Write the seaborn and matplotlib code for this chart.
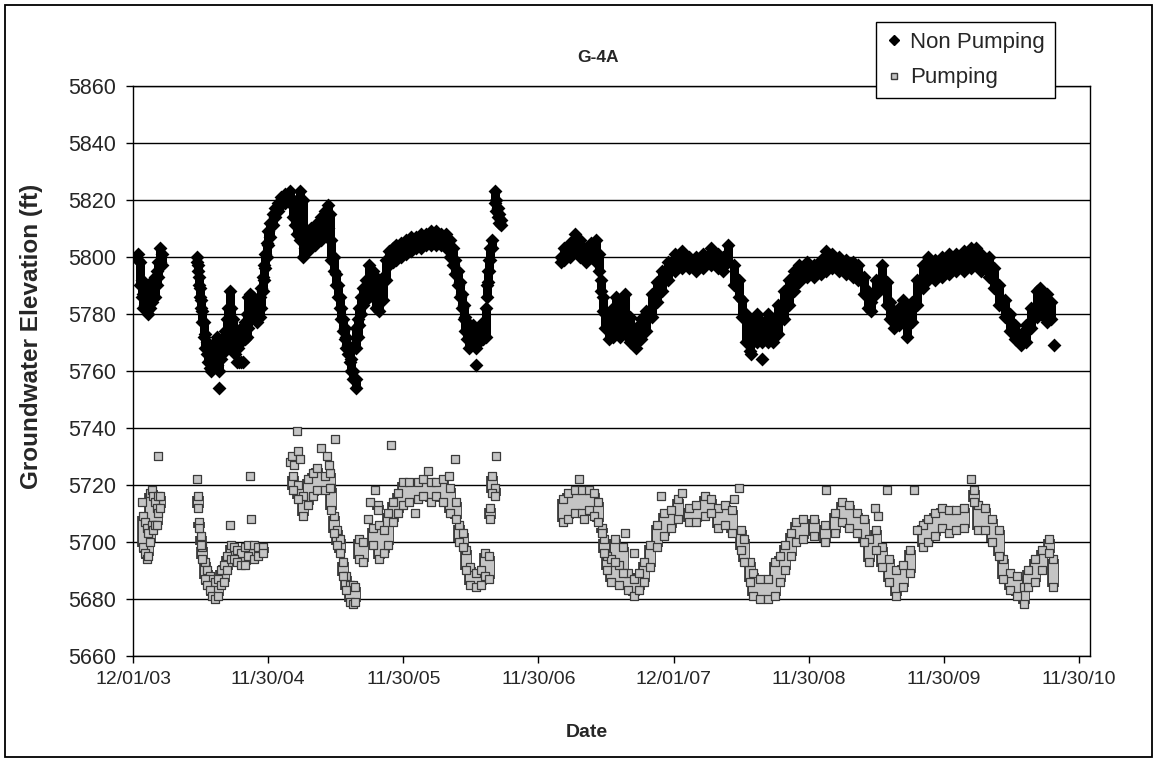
import pandas as pd
import seaborn as sns
import matplotlib.pyplot as plt
import matplotlib.dates as mdates
from matplotlib.lines import Line2D
from matplotlib.patches import Rectangle

# readings: days since 12/01/03, with the top / bottom of the band of daily readings
start = pd.Timestamp("2003-12-01")

np_day = [
    14, 19, 23, 28, 32, 37, 41, 46, 50, 55,
    59, 64, 68, 73, 77, 172, 175, 178, 181, 184,
    187, 191, 195, 199, 203, 208, 212, 217, 221, 226,
    233, 239, 248, 253, 257, 262, 266, 271, 275, 284,
    293, 302, 307, 311, 316, 325, 334, 343, 347, 352,
    354, 357, 361, 365, 370, 377, 384, 392, 401, 410,
    424, 431, 437, 442, 451, 458, 464, 473, 482, 491,
    500, 509, 518, 527, 533, 536, 542, 548, 553, 558,
    563, 567, 572, 576, 581, 585, 590, 594, 602, 603,
    608, 612, 617, 621, 630, 639, 648, 657, 666, 675,
    684, 693, 702, 711, 725, 738, 752, 765, 779, 792,
    806, 819, 833, 846, 857, 864, 871, 878, 884, 889,
    894, 898, 902, 909, 918, 927, 936, 945, 954, 956,
    959, 961, 965, 970, 977, 981, 986, 990, 995, 1156,
    1165, 1180, 1194, 1209, 1223, 1238, 1252, 1260, 1265, 1270,
    1276, 1286, 1296, 1305, 1315, 1329, 1344, 1358, 1373, 1387,
    1402, 1416, 1430, 1445, 1464, 1483, 1503, 1522, 1541, 1561,
    1580, 1594, 1609, 1623, 1638, 1647, 1657, 1667, 1676, 1686,
    1700, 1715, 1729, 1744, 1758, 1773, 1787, 1801, 1821, 1840,
    1859, 1874, 1888, 1907, 1927, 1946, 1960, 1975, 1985, 1994,
    2009, 2023, 2037, 2047, 2057, 2071, 2081, 2091, 2105, 2119,
    2134, 2148, 2168, 2187, 2206, 2225, 2245, 2264, 2278, 2293,
    2312, 2327, 2341, 2356, 2370, 2384, 2399, 2413, 2428, 2442,
    2452, 2461, 2471, 2481]
np_hi = [
    5801, 5798, 5792, 5787, 5790, 5785, 5783, 5786, 5789, 5792,
    5793, 5795, 5798, 5803, 5801, 5800, 5797, 5793, 5789, 5785,
    5781, 5777, 5773, 5770, 5768, 5768, 5766, 5768, 5770, 5772,
    5766, 5770, 5774, 5778, 5782, 5788, 5782, 5778, 5772, 5773,
    5775, 5777, 5780, 5786, 5787, 5786, 5784, 5786, 5789, 5793,
    5797, 5801, 5805, 5809, 5812, 5815, 5817, 5819, 5821, 5822,
    5823, 5820, 5818, 5820, 5823, 5820, 5808, 5809, 5810, 5811,
    5812, 5814, 5816, 5818, 5815, 5806, 5800, 5794, 5790, 5786,
    5782, 5778, 5775, 5772, 5769, 5767, 5764, 5760, 5757, 5775,
    5778, 5782, 5786, 5789, 5792, 5797, 5795, 5793, 5788, 5793,
    5799, 5802, 5803, 5804, 5805, 5806, 5807, 5807, 5808, 5808,
    5809, 5809, 5808, 5808, 5806, 5803, 5799, 5795, 5791, 5787,
    5783, 5779, 5777, 5776, 5776, 5774, 5775, 5777, 5782, 5790,
    5795, 5799, 5803, 5806, 5823, 5820, 5817, 5815, 5813, 5800,
    5803, 5805, 5808, 5806, 5803, 5805, 5806, 5801, 5792, 5786,
    5780, 5778, 5782, 5786, 5781, 5787, 5779, 5775, 5778, 5781,
    5787, 5791, 5795, 5798, 5801, 5802, 5800, 5800, 5801, 5803,
    5801, 5800, 5804, 5797, 5792, 5785, 5780, 5776, 5778, 5780,
    5777, 5780, 5778, 5783, 5788, 5792, 5795, 5797, 5798, 5797,
    5799, 5802, 5801, 5800, 5799, 5798, 5797, 5793, 5788, 5784,
    5792, 5797, 5791, 5784, 5781, 5782, 5785, 5780, 5784, 5792,
    5797, 5800, 5799, 5800, 5801, 5801, 5802, 5803, 5803, 5801,
    5800, 5796, 5790, 5785, 5780, 5776, 5773, 5776, 5782, 5788,
    5789, 5785, 5787, 5784]
np_lo = [
    5799, 5790, 5786, 5782, 5783, 5781, 5780, 5782, 5784, 5786,
    5786, 5790, 5793, 5798, 5797, 5798, 5795, 5790, 5786, 5782,
    5777, 5772, 5768, 5766, 5763, 5761, 5760, 5762, 5764, 5762,
    5760, 5764, 5767, 5770, 5772, 5776, 5770, 5768, 5766, 5768,
    5770, 5771, 5772, 5775, 5778, 5779, 5777, 5779, 5782, 5788,
    5792, 5796, 5800, 5804, 5807, 5811, 5814, 5816, 5818, 5819,
    5819, 5814, 5811, 5808, 5806, 5800, 5803, 5802, 5804, 5804,
    5806, 5806, 5808, 5810, 5806, 5799, 5795, 5790, 5786, 5782,
    5778, 5774, 5771, 5768, 5766, 5763, 5760, 5757, 5754, 5768,
    5772, 5776, 5780, 5783, 5785, 5788, 5786, 5782, 5781, 5785,
    5792, 5797, 5798, 5799, 5800, 5801, 5802, 5803, 5803, 5804,
    5804, 5804, 5804, 5803, 5800, 5797, 5794, 5790, 5786, 5782,
    5778, 5774, 5771, 5768, 5771, 5768, 5770, 5771, 5772, 5786,
    5791, 5795, 5799, 5803, 5819, 5816, 5814, 5812, 5811, 5798,
    5799, 5800, 5802, 5800, 5798, 5800, 5798, 5795, 5788, 5781,
    5775, 5771, 5772, 5774, 5772, 5773, 5770, 5768, 5771, 5774,
    5779, 5784, 5788, 5792, 5795, 5796, 5796, 5795, 5796, 5797,
    5796, 5795, 5798, 5790, 5786, 5779, 5770, 5767, 5770, 5770,
    5770, 5770, 5770, 5773, 5778, 5783, 5788, 5791, 5793, 5793,
    5794, 5795, 5796, 5795, 5794, 5793, 5792, 5787, 5782, 5781,
    5787, 5789, 5783, 5778, 5775, 5776, 5778, 5772, 5777, 5783,
    5789, 5792, 5792, 5793, 5794, 5795, 5795, 5796, 5797, 5795,
    5793, 5789, 5783, 5779, 5774, 5771, 5769, 5770, 5775, 5779,
    5781, 5779, 5777, 5778]
np_out_day = [233, 282, 287, 293, 298, 927, 1671, 1700, 2490]
np_out_ft = [5754, 5763, 5763, 5763, 5763, 5762, 5766, 5764, 5769]

p_day = [
    28, 32, 37, 41, 46, 50, 55, 59, 64, 68,
    73, 176, 178, 183, 187, 194, 201, 208, 214, 221,
    230, 237, 245, 255, 264, 273, 282, 292, 302, 311,
    326, 338, 352, 431, 446, 460, 473, 487, 497, 518,
    532, 536, 542, 550, 558, 567, 576, 585, 594, 599,
    612, 621, 648, 662, 666, 677, 689, 702, 716, 729,
    747, 770, 783, 806, 819, 837, 857, 873, 880, 891,
    900, 911, 927, 941, 952, 961, 965, 969, 977, 1161,
    1175, 1194, 1214, 1233, 1247, 1257, 1267, 1273, 1281, 1291,
    1302, 1312, 1324, 1339, 1353, 1368, 1382, 1397, 1416, 1435,
    1455, 1474, 1503, 1522, 1546, 1561, 1580, 1599, 1618, 1642,
    1652, 1667, 1676, 1695, 1715, 1734, 1748, 1763, 1777, 1792,
    1811, 1840, 1869, 1898, 1917, 1936, 1956, 1975, 1989, 2009,
    2023, 2042, 2062, 2081, 2100, 2134, 2148, 2168, 2187, 2206,
    2225, 2245, 2274, 2283, 2302, 2322, 2341, 2351, 2370, 2389,
    2408, 2418, 2437, 2457, 2476, 2486]
p_hi = [
    5709, 5707, 5705, 5703, 5717, 5718, 5716, 5714, 5712, 5716,
    5716, 5716, 5707, 5702, 5698, 5693, 5690, 5688, 5687, 5686,
    5687, 5690, 5692, 5695, 5699, 5698, 5697, 5696, 5698, 5699,
    5699, 5698, 5698, 5723, 5720, 5716, 5722, 5724, 5726, 5723,
    5724, 5719, 5709, 5704, 5701, 5693, 5688, 5685, 5685, 5684,
    5701, 5700, 5705, 5713, 5706, 5704, 5710, 5714, 5717, 5721,
    5721, 5721, 5722, 5721, 5721, 5722, 5719, 5714, 5706, 5703,
    5697, 5691, 5689, 5690, 5696, 5695, 5712, 5723, 5719, 5715,
    5717, 5718, 5718, 5718, 5717, 5714, 5705, 5701, 5695, 5694,
    5701, 5692, 5698, 5689, 5687, 5689, 5693, 5699, 5706, 5710,
    5711, 5715, 5712, 5713, 5716, 5715, 5712, 5713, 5711, 5704,
    5701, 5693, 5689, 5687, 5687, 5693, 5695, 5699, 5703, 5707,
    5708, 5708, 5706, 5710, 5714, 5713, 5710, 5708, 5701, 5704,
    5698, 5694, 5690, 5692, 5697, 5706, 5708, 5710, 5712, 5711,
    5711, 5712, 5718, 5713, 5712, 5708, 5704, 5694, 5689, 5688,
    5684, 5690, 5694, 5697, 5701, 5694]
p_lo = [
    5698, 5696, 5694, 5695, 5700, 5706, 5704, 5706, 5706, 5710,
    5712, 5712, 5705, 5699, 5694, 5687, 5685, 5683, 5681, 5680,
    5681, 5685, 5686, 5690, 5694, 5694, 5693, 5692, 5692, 5695,
    5694, 5695, 5696, 5718, 5715, 5709, 5713, 5716, 5718, 5718,
    5719, 5711, 5703, 5699, 5696, 5688, 5683, 5679, 5678, 5679,
    5694, 5693, 5699, 5711, 5694, 5696, 5699, 5707, 5710, 5713,
    5714, 5715, 5716, 5714, 5716, 5714, 5710, 5708, 5700, 5698,
    5690, 5685, 5684, 5685, 5688, 5687, 5708, 5717, 5716, 5707,
    5708, 5710, 5710, 5711, 5709, 5707, 5703, 5696, 5690, 5686,
    5693, 5685, 5689, 5683, 5681, 5683, 5686, 5691, 5698, 5702,
    5705, 5708, 5707, 5707, 5709, 5710, 5705, 5706, 5703, 5697,
    5693, 5686, 5681, 5680, 5680, 5681, 5686, 5690, 5695, 5700,
    5701, 5702, 5700, 5703, 5707, 5705, 5703, 5700, 5693, 5697,
    5691, 5686, 5681, 5684, 5689, 5698, 5700, 5702, 5705, 5703,
    5704, 5705, 5714, 5704, 5704, 5700, 5695, 5687, 5683, 5681,
    5678, 5684, 5686, 5690, 5696, 5684]
p_out_day = [23, 68, 172, 262, 316, 318, 424, 430, 436, 442,
             446, 451, 509, 525, 529, 545, 635, 641, 653, 698,
             761, 797, 855, 869, 981, 1204, 1218, 1329, 1353, 1426,
             1483, 1623, 1638, 1874, 2004, 2013, 2038, 2110, 2119, 2264]
p_out_ft = [5714, 5730, 5722, 5706, 5723, 5708, 5728, 5730, 5727, 5739,
            5732, 5729, 5733, 5730, 5727, 5736, 5708, 5714, 5718, 5734,
            5710, 5725, 5723, 5729, 5730, 5722, 5708, 5703, 5696, 5716,
            5717, 5715, 5719, 5718, 5712, 5709, 5718, 5718, 5704, 5722]

y_ticks = list(range(5660, 5861, 20))


def to_dates(days):
    return start + pd.to_timedelta(days, unit="D")


np_pts = pd.DataFrame({
    "date": to_dates(np_day + np_day + np_out_day),
    "ft": np_hi + np_lo + np_out_ft})
p_pts = pd.DataFrame({
    "date": to_dates(p_day + p_day + p_out_day),
    "ft": p_hi + p_lo + p_out_ft})

sns.set_style("white")
plt.rcParams['font.family'] = ['Liberation Sans', 'DejaVu Sans']

fig, ax = plt.subplots(figsize=(11.57, 7.59), dpi=100)
fig.subplots_adjust(left=0.115, right=0.942, top=0.887, bottom=0.136)

p_face = '#c4c4c4'
p_edge = '#3a3a3a'

# spread of the daily readings, then the readings themselves
ax.vlines(to_dates(np_day), np_lo, np_hi, color='black', lw=6.5, zorder=2)
sns.scatterplot(data=np_pts, x="date", y="ft", marker='D', color='black',
                s=50, linewidth=0, ax=ax, zorder=3, legend=False)
ax.vlines(to_dates(p_day), p_lo, p_hi, color=p_edge, lw=8.5, zorder=2)
ax.vlines(to_dates(p_day), p_lo, p_hi, color=p_face, lw=6.5, zorder=2.5)
sns.scatterplot(data=p_pts, x="date", y="ft", marker='s', color=p_face,
                edgecolor=p_edge, s=34, linewidth=0.9, ax=ax, zorder=3, legend=False)

ax.set_ylim(5660, 5860)
ax.set_yticks(y_ticks)
x_ticks = [start + pd.Timedelta(days=365.25 * k) for k in range(8)]
ax.set_xticks(x_ticks)
ax.xaxis.set_major_formatter(mdates.DateFormatter('%m/%d/%y'))
ax.set_xlim(start, start + pd.Timedelta(days=2586))

ax.set_axisbelow(True)
ax.yaxis.grid(True, color='black', lw=1)
ax.xaxis.grid(False)
for s in ax.spines.values():
    s.set_color('black')
    s.set_linewidth(1)
ax.tick_params(axis='both', direction='out', length=5, width=1, color='black',
               labelsize=14, bottom=True, left=True, pad=6)
ax.tick_params(axis='y', labelsize=15.5, pad=7)

ax.set_xlabel('Date', fontweight='bold', fontsize=14)
ax.set_ylabel('Groundwater Elevation (ft)', fontweight='bold', fontsize=17.5)
ax.xaxis.set_label_coords(0.474, -0.12)
ax.yaxis.set_label_coords(-0.094, 0.56)

fig.text(598 / 1157, 1 - 57 / 759, 'G-4A', ha='center', va='center',
         fontweight='bold', fontsize=12.5)

handles = [
    Line2D([], [], ls='', marker='D', color='black', markersize=5),
    Line2D([], [], ls='', marker='s', markerfacecolor=p_face,
           markeredgecolor=p_edge, markersize=4.5),
]
leg = ax.legend(handles, ['Non Pumping', 'Pumping'], loc='upper right',
                bbox_to_anchor=(1055 / 1157, 1 - 22 / 759),
                bbox_transform=fig.transFigure, borderaxespad=0,
                fontsize=16, frameon=True, fancybox=False, shadow=False,
                handlelength=0.7, handletextpad=0.4, labelspacing=0.65,
                borderpad=0.45)
leg.get_frame().set_edgecolor('black')
leg.get_frame().set_linewidth(1)
leg.get_frame().set_alpha(1)

fig.patches.append(Rectangle((5 / 1157, 2 / 759), 1147 / 1157, 752 / 759,
                             transform=fig.transFigure, fill=False,
                             edgecolor='black', lw=1.3))

fig.savefig('out.png', dpi=100)
